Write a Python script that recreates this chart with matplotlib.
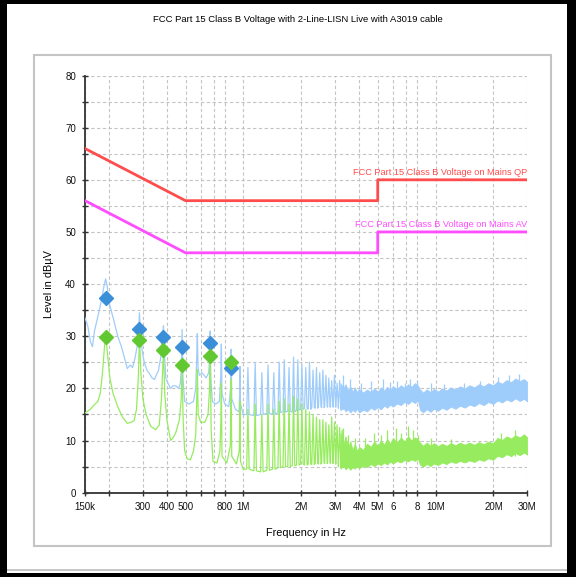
import matplotlib
matplotlib.use('Agg')
import matplotlib.pyplot as plt
from matplotlib.patches import Rectangle
from matplotlib.ticker import FixedLocator, MultipleLocator

plt.rcParams['font.family'] = ['Liberation Sans', 'DejaVu Sans']

# ---------------- data ----------------
title = "FCC Part 15 Class B Voltage with 2-Line-LISN Live with A3019 cable"
xlabel = "Frequency in Hz"
ylabel = "Level in dBµV"

# limit lines (Hz, dBuV)
qp_freq = [150e3, 500e3, 5e6, 5e6, 30e6]
qp_level = [66, 56, 56, 60, 60]
av_freq = [150e3, 500e3, 5e6, 5e6, 30e6]
av_level = [56, 46, 46, 50, 50]
qp_label = "FCC Part 15 Class B Voltage on Mains QP"
av_label = "FCC Part 15 Class B Voltage on Mains AV"

# peak trace, low-frequency part (kHz, dBuV)
pk_lf_freq = [150, 155, 160, 164, 168, 173, 178, 183, 188, 192, 196, 200, 205, 212,
              222, 232, 240, 249, 258, 265, 272, 280, 285, 288, 292, 298, 305, 315,
              325, 335, 345, 352, 362, 372, 380, 384, 388, 395, 405, 418, 430, 445,
              460, 470, 476, 480, 485, 495, 520, 550, 565, 572, 576, 581, 590, 610,
              640, 660, 668, 672, 677, 690, 720, 750, 762, 768, 774, 800, 840, 858,
              864, 870, 910, 950, 956, 960, 966, 1000]
pk_lf_level = [33.5, 32.0, 29.0, 28.0, 31.0, 33.0, 35.0, 37.0, 39.5, 41.0, 39.5, 36.5,
               35.0, 33.0, 30.0, 28.0, 26.0, 23.8, 24.5, 24.0, 25.5, 28.0, 31.0, 34.5,
               30.0, 27.0, 25.0, 23.5, 22.8, 22.0, 21.7, 22.5, 23.5, 26.0, 30.0, 32.0,
               27.0, 22.0, 21.0, 20.0, 20.5, 20.5, 20.0, 21.0, 24.0, 31.3, 22.0, 17.5,
               17.0, 17.5, 20.0, 26.0, 30.5, 24.0, 22.5, 23.0, 22.0, 23.0, 26.0, 31.0,
               22.0, 17.5, 17.0, 17.5, 22.0, 28.5, 19.0, 17.0, 16.5, 20.0, 27.5, 18.0,
               16.0, 15.5, 19.0, 24.2, 17.0, 15.0]

# average trace, low-frequency part (kHz, dBuV)
av_lf_freq = [150, 160, 168, 175, 180, 185, 189, 192, 196, 202, 210, 222, 235, 249,
              260, 270, 278, 284, 288, 293, 300, 312, 330, 350, 365, 375, 384, 390,
              400, 418, 430, 445, 465, 475, 480, 486, 495, 510, 530, 550, 565, 572,
              576, 582, 600, 630, 655, 667, 672, 680, 695, 730, 755, 764, 768, 774,
              820, 855, 861, 864, 870, 920, 952, 960, 966, 1000]
av_lf_level = [15.3, 16.0, 16.9, 17.5, 19.0, 23.0, 27.5, 30.3, 27.0, 22.0, 19.0, 16.5,
               14.5, 13.3, 13.5, 13.8, 16.0, 22.0, 29.7, 23.0, 18.0, 15.0, 12.7, 12.1,
               13.0, 18.0, 27.4, 19.0, 14.0, 10.0, 10.5, 11.5, 14.0, 18.0, 24.5, 14.0,
               8.0, 6.5, 6.3, 8.0, 11.0, 18.0, 23.6, 15.0, 13.5, 13.5, 15.0, 20.0,
               26.3, 12.0, 6.0, 5.7, 8.0, 14.0, 21.0, 7.0, 5.7, 9.0, 15.0, 21.7, 7.0,
               5.5, 8.0, 17.5, 6.0, 4.5]

# harmonic comb 1 - 3.3 MHz (kHz, dBuV)
comb_freq = [1056, 1152, 1248, 1344, 1440, 1536, 1632, 1728, 1824, 1920, 2016, 2112,
             2208, 2304, 2400, 2496, 2592, 2688, 2784, 2880, 2976, 3072, 3168, 3264]
comb_pk_top = [24.0, 25.0, 23.0, 24.5, 23.0, 25.0, 25.5, 24.0, 26.0, 25.5, 24.5, 24.0,
               25.0, 23.5, 24.0, 23.0, 23.5, 22.5, 22.0, 21.5, 22.5, 21.0, 21.5, 20.5]
comb_pk_floor = [15.0, 14.8, 15.0, 15.2, 15.0, 15.4, 15.5, 15.6, 15.5, 15.8, 16.0, 16.2,
                 16.0, 16.3, 16.2, 16.5, 16.3, 16.5, 16.4, 16.6, 16.4, 16.5, 16.2, 16.0]
comb_av_top = [16.0, 17.0, 15.0, 17.0, 16.0, 17.5, 18.0, 17.0, 18.5, 18.0, 17.0, 16.0,
               15.5, 15.0, 14.5, 14.0, 14.0, 13.5, 13.0, 14.5, 13.5, 13.0, 12.5, 12.0]
comb_av_floor = [4.5, 4.2, 4.0, 4.3, 4.5, 4.8, 5.0, 5.0, 5.2, 5.3, 5.5, 5.3, 5.5, 5.4,
                 5.6, 5.5, 5.7, 5.6, 5.8, 5.6, 5.7, 5.5, 5.0, 4.8]

# dense band 3.2 - 30 MHz (MHz, dBuV): lower / upper edges
band_freq = [3.2, 3.3, 3.4, 3.5, 3.6, 3.7, 3.8, 3.9, 4.0, 4.2, 4.4, 4.6, 4.8, 5.0, 5.2,
             5.4, 5.6, 5.8, 6.0, 6.3, 6.6, 6.9, 7.2, 7.5, 7.8, 8.1, 8.3, 8.6, 9.0, 9.4,
             9.8, 10.3, 10.8, 11.4, 12.0, 12.7, 13.4, 14.2, 15.0, 15.9, 16.8, 17.8,
             18.8, 19.9, 21.0, 22.2, 23.4, 24.7, 26.0, 27.4, 28.8, 30.0]
band_pk_lo = [15.8, 16.4, 15.6, 16.0, 15.4, 15.9, 15.5, 16.1, 15.4, 15.9, 15.6, 16.3,
              15.9, 16.4, 16.0, 16.7, 16.3, 16.9, 16.5, 17.1, 16.8, 17.4, 17.0, 17.6,
              17.2, 17.7, 15.9, 15.4, 16.0, 15.5, 16.1, 15.7, 16.3, 15.9, 16.5, 16.1,
              16.7, 16.3, 16.9, 16.6, 17.2, 16.8, 17.4, 17.0, 17.7, 17.3, 17.9, 17.5,
              18.1, 17.6, 18.0, 17.5]
band_pk_hi = [21.0, 20.0, 20.8, 19.6, 20.4, 19.4, 20.2, 19.3, 19.9, 19.2, 19.8, 19.3,
              20.0, 19.4, 20.2, 19.6, 20.3, 19.7, 20.4, 19.9, 20.6, 20.1, 20.8, 20.3,
              21.0, 20.5, 19.8, 19.2, 19.8, 19.3, 19.9, 19.4, 20.0, 19.6, 20.2, 19.8,
              20.4, 20.0, 20.6, 20.2, 20.8, 20.4, 21.0, 20.6, 21.3, 20.9, 21.6, 21.2,
              21.9, 21.4, 21.8, 21.2]
band_av_lo = [4.6, 5.2, 4.5, 5.0, 4.4, 4.9, 4.6, 5.1, 4.7, 5.2, 4.9, 5.5, 5.1, 5.6,
              5.3, 5.8, 5.4, 6.0, 5.6, 6.1, 5.8, 6.3, 6.0, 6.4, 6.1, 6.5, 5.4, 5.0,
              5.5, 5.1, 5.6, 5.3, 5.8, 5.5, 6.0, 5.7, 6.1, 5.8, 6.2, 5.9, 6.4, 6.1,
              6.6, 6.3, 7.1, 6.8, 7.4, 7.0, 7.6, 7.2, 7.7, 7.3]
band_av_hi = [11.5, 9.0, 10.8, 8.6, 9.8, 8.2, 9.4, 8.0, 8.8, 8.2, 9.4, 8.8, 9.8, 9.0,
              10.0, 9.2, 10.3, 9.4, 10.5, 9.6, 10.6, 9.8, 10.8, 10.0, 10.6, 10.2, 9.6,
              9.0, 9.6, 9.0, 9.5, 8.9, 9.4, 9.0, 9.5, 9.1, 9.6, 9.2, 9.6, 9.2, 9.7,
              9.3, 9.8, 9.5, 10.5, 10.1, 10.8, 10.4, 11.0, 10.6, 11.2, 10.6]
# isolated spikes sticking out of the band (MHz, dBuV)
spk_pk_freq = [3.3, 3.6, 4.1, 4.6, 5.3, 5.8, 6.3, 6.9, 7.4, 8.0, 9.5, 11, 14, 17, 21,
               24, 27]
spk_pk_level = [22.5, 21.8, 21.0, 21.5, 21.8, 21.2, 21.4, 21.0, 21.8, 21.5, 21.0, 20.8,
                21.0, 21.5, 22.2, 22.5, 22.8]
spk_av_freq = [3.3, 3.5, 3.8, 4.3, 4.8, 5.2, 5.6, 6.2, 6.6, 7.2, 7.6, 8.1, 9.5, 12,
               22, 26]
spk_av_level = [12.5, 11.0, 10.5, 10.5, 11.5, 11.0, 12.0, 12.5, 11.5, 12.8, 12.0, 11.0,
                10.5, 10.3, 11.5, 12.0]

# QP / AV final measurement markers (kHz, dBuV)
mk_freq = [192, 288, 384, 480, 672, 864]
mk_qp = [37.3, 31.4, 29.8, 27.9, 28.7, 23.9]
mk_av = [29.8, 29.2, 27.4, 24.5, 26.3, 25.0]

# axis ticks
xtick_vals = [150e3, 200e3, 300e3, 400e3, 500e3, 600e3, 700e3, 800e3, 1e6, 2e6, 3e6,
              4e6, 5e6, 6e6, 7e6, 8e6, 10e6, 20e6, 30e6]
xtick_labels = ['150k', '', '300', '400', '500', '', '', '800', '1M', '2M', '3M',
                '4M', '5M', '6', '', '8', '10M', '20M', '30M']
ytick_vals = [0, 10, 20, 30, 40, 50, 60, 70, 80]

# ---------------- styles ----------------
PK_COL = '#9fcdfb'
AV_COL = '#96ec5e'
MK_PK = '#3b8fd9'
MK_AV = '#62c832'
QP_COL = '#ff4c4c'
AVL_COL = '#ff4cff'
W, H = 576, 577

fig = plt.figure(figsize=(W / 100, H / 100), dpi=100)


def rect(x0, y0, x1, y1, **kw):
    fig.add_artist(Rectangle((x0 / W, 1 - y1 / H), (x1 - x0) / W, (y1 - y0) / H,
                             transform=fig.transFigure, **kw))


# outer black frame
rect(0, 0, 576, 4, facecolor='black', edgecolor='none')
rect(0, 0, 7, 577, facecolor='black', edgecolor='none')
rect(567, 0, 576, 577, facecolor='black', edgecolor='none')
rect(0, 573, 576, 577, facecolor='black', edgecolor='none')
rect(7, 569, 567, 570.5, facecolor='#c8c8c8', edgecolor='none')
# inner panel
rect(33.5, 54.5, 550.5, 545.5, facecolor='none', edgecolor='#c4c4c4', linewidth=1.5)

fig.text(298 / W, 1 - 20 / H, title, ha='center', va='center', fontsize=6.8,
         color='#000000')

ax = fig.add_axes([85 / W, 1 - 492.7 / H, (527.3 - 85) / W, (492.7 - 75.5) / H])
ax.set_xscale('log')
ax.set_xlim(150e3, 30e6)
ax.set_ylim(0, 80)

# grid
ax.xaxis.set_major_locator(FixedLocator(xtick_vals))
ax.xaxis.set_minor_locator(FixedLocator([]))
ax.set_xticklabels(xtick_labels)
ax.yaxis.set_major_locator(FixedLocator(ytick_vals))
ax.yaxis.set_minor_locator(MultipleLocator(5))
ax.grid(True, which='both', axis='y', color='#c4c4c4', linestyle=(0, (3, 2.2)),
        linewidth=0.8)
ax.grid(True, which='major', axis='x', color='#c4c4c4', linestyle=(0, (3, 2.2)),
        linewidth=0.8)
ax.set_axisbelow(True)

for s in ['top', 'right']:
    ax.spines[s].set_visible(False)
for s in ['left', 'bottom']:
    ax.spines[s].set_color('#333333')
    ax.spines[s].set_linewidth(1.3)
ax.tick_params(which='both', direction='inout', length=5, width=1.0, color='#333333',
               labelsize=7, labelcolor='#111111', pad=4)

# traces: low-frequency part
ax.plot([f * 1e3 for f in pk_lf_freq], pk_lf_level, color=PK_COL, lw=0.9, zorder=3)
ax.plot([f * 1e3 for f in av_lf_freq], av_lf_level, color=AV_COL, lw=0.9, zorder=4)


# harmonic comb
def comb(freqs, tops, floors):
    xs, ys = [], []
    for f, t, b in zip(freqs, tops, floors):
        fh = f * 1e3
        xs += [fh * 0.985, fh, fh * 1.015]
        ys += [b, t, b]
    return xs, ys


cx, cy = comb(comb_freq, comb_pk_top, comb_pk_floor)
ax.plot([1000e3] + cx + [3.3e6], [15.0] + cy + [band_pk_lo[0] + 2], color=PK_COL,
        lw=0.9, zorder=3)
cx, cy = comb(comb_freq, comb_av_top, comb_av_floor)
ax.plot([1000e3] + cx + [3.3e6], [4.5] + cy + [band_av_lo[0] + 3], color=AV_COL,
        lw=0.9, zorder=4)

# dense band
bf = [f * 1e6 for f in band_freq]
ax.fill_between(bf, band_pk_lo, band_pk_hi, color=PK_COL, lw=0.6, edgecolor=PK_COL,
                zorder=3)
ax.fill_between(bf, band_av_lo, band_av_hi, color=AV_COL, lw=0.6, edgecolor=AV_COL,
                zorder=4)
ax.vlines([f * 1e6 for f in spk_pk_freq], 18, spk_pk_level, color=PK_COL, lw=0.9,
          zorder=3)
ax.vlines([f * 1e6 for f in spk_av_freq], 7, spk_av_level, color=AV_COL, lw=0.9,
          zorder=4)

# limit lines
ax.plot(qp_freq, qp_level, color=QP_COL, lw=2.0, zorder=5)
ax.plot(av_freq, av_level, color=AVL_COL, lw=2.0, zorder=5)
ax.text(30e6, qp_level[-1] + 0.6, qp_label, ha='right', va='bottom', fontsize=6.6,
        color=QP_COL, zorder=6)
ax.text(30e6, av_level[-1] + 0.6, av_label, ha='right', va='bottom', fontsize=6.6,
        color=AVL_COL, zorder=6)

# markers
ax.plot([f * 1e3 for f in mk_freq], mk_qp, linestyle='none', marker='D',
        markersize=7.5, color=MK_PK, zorder=7)
ax.plot([f * 1e3 for f in mk_freq], mk_av, linestyle='none', marker='D',
        markersize=7.5, color=MK_AV, zorder=8)

ax.set_xlabel(xlabel, fontsize=7.8, color='#000000', labelpad=12)
ax.set_ylabel(ylabel, fontsize=7.8, color='#000000', labelpad=8)

fig.savefig('out.png', dpi=100)
